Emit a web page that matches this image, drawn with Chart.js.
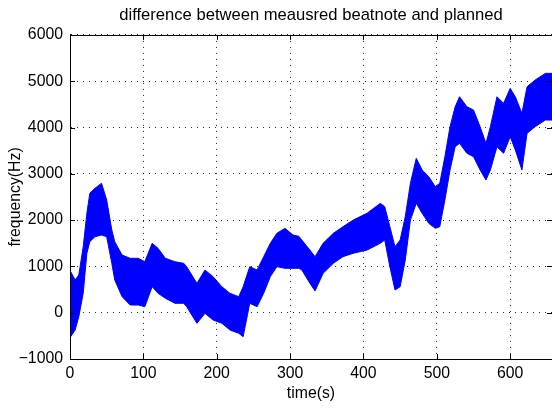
<!DOCTYPE html>
<html>
<head>
<meta charset="utf-8">
<script src="https://cdn.jsdelivr.net/npm/chart.js@4/dist/chart.umd.min.js"></script>
<style>
  body { margin: 0; background: #fff; }
  #wrap { width: 552px; height: 409px; }
</style>
</head>
<body>
<div id="wrap"><canvas id="beatChart" width="552" height="409"></canvas></div>
<script>
// time (s) and the upper / lower edge of the noisy trace (Hz)
const times = [1, 7, 12, 18, 23, 27, 34, 43, 50, 57,
  61, 71, 82, 93, 102, 112, 120, 130, 143, 155,
  159, 173, 184, 195, 207, 218, 230, 236, 245, 255,
  264, 273, 282, 293, 304, 312, 316, 327, 334, 345,
  359, 372, 386, 405, 423, 429, 436, 443, 450, 457,
  464, 472, 480, 489, 498, 504, 511, 518, 525, 531,
  541, 550, 559, 567, 573, 582, 591, 600, 607, 616,
  623, 634, 648, 657];
const upperEdge = [885, 706, 814, 1425, 2147, 2579, 2687, 2795, 2434, 1786,
  1534, 1246, 1175, 1175, 1102, 1499, 1391, 1175, 1102, 1067,
  994, 635, 922, 778, 562, 419, 346, 562, 994, 922,
  1210, 1499, 1715, 1823, 1678, 1650, 1570, 1354, 1210, 1500,
  1715, 1857, 2000, 2150, 2362, 2290, 1857, 1425, 1570, 2075,
  2795, 3335, 3082, 2937, 2721, 2795, 3370, 4017, 4449, 4665,
  4449, 4378, 4017, 3658, 4017, 4665, 4522, 4846, 4665, 4306,
  4881, 5025, 5170, 5170];
const lowerEdge = [-518, -374, -86, 419, 1283, 1534, 1641, 1678, 1641, 1067,
  706, 346, 166, 166, 130, 562, 419, 311, 203, 203,
  130, -229, -14, -158, -229, -374, -445, -518, 203, 130,
  419, 778, 994, 959, 959, 959, 922, 635, 470, 850,
  1067, 1210, 1283, 1354, 1499, 1570, 994, 490, 562, 1138,
  2000, 2362, 2147, 1930, 1823, 1857, 2434, 3082, 3585, 3658,
  3443, 3370, 3082, 2866, 3082, 3585, 3443, 3801, 3514, 3082,
  3874, 4017, 4162, 4160];

const xRange = [0, 657];
const yRange = [-1000, 6000];
const xStep = 100;
const yStep = 1000;

const FONT = "'Liberation Sans', Arial, Helvetica, sans-serif";
Chart.defaults.font.family = FONT;
Chart.defaults.color = '#000';

// plain numbers, matlab minus sign
const fmt = v => String(v).replace('-', '\u2212');

// matlab style box + inward tick marks
const boxTicks = {
  id: 'boxTicks',
  afterDraw(chart) {
    const { ctx, chartArea: a, scales } = chart;
    const len = 5;
    ctx.save();
    ctx.strokeStyle = '#000';
    ctx.lineWidth = 1;
    ctx.beginPath();
    scales.x.ticks.forEach(t => {
      const px = Math.round(scales.x.getPixelForValue(t.value)) + 0.5;
      ctx.moveTo(px, a.bottom); ctx.lineTo(px, a.bottom - len);
      ctx.moveTo(px, a.top); ctx.lineTo(px, a.top + len);
    });
    scales.y.ticks.forEach(t => {
      const py = Math.round(scales.y.getPixelForValue(t.value)) + 0.5;
      ctx.moveTo(a.left, py); ctx.lineTo(a.left + len, py);
      ctx.moveTo(a.right, py); ctx.lineTo(a.right - len, py);
    });
    ctx.stroke();
    ctx.strokeRect(Math.round(a.left) + 0.5, Math.round(a.top) + 0.5,
      Math.round(a.right - a.left), Math.round(a.bottom - a.top));
    ctx.restore();
  }
};

new Chart(document.getElementById('beatChart'), {
  type: 'line',
  data: {
    datasets: [
      {
        label: 'upper',
        data: times.map((t, i) => ({ x: t, y: upperEdge[i] })),
        borderColor: '#0000ff',
        backgroundColor: '#0000ff',
        borderWidth: 1,
        pointRadius: 0,
        tension: 0,
        fill: '+1'
      },
      {
        label: 'lower',
        data: times.map((t, i) => ({ x: t, y: lowerEdge[i] })),
        borderColor: '#0000ff',
        borderWidth: 1,
        pointRadius: 0,
        tension: 0,
        fill: false
      }
    ]
  },
  options: {
    responsive: false,
    animation: false,
    layout: { padding: 0 },
    plugins: {
      legend: { display: false },
      tooltip: { enabled: false },
      title: {
        display: true,
        text: 'difference between meausred beatnote and planned',
        fullSize: false,
        color: '#000',
        font: { size: 16.6, weight: 'normal' },
        padding: { top: 5, bottom: 10 }
      }
    },
    scales: {
      x: {
        type: 'linear',
        min: xRange[0],
        max: xRange[1],
        afterFit: s => { s.height = 50; },
        ticks: { stepSize: xStep, includeBounds: false, maxRotation: 0, padding: 5, font: { size: 15.8 }, color: '#000', callback: fmt },
        grid: { color: 'rgba(0,0,0,0.85)', drawTicks: false },
        border: { color: '#000', dash: [1, 5] },
        title: { display: true, text: 'time(s)', font: { size: 15.8 }, color: '#000', padding: { top: 0, bottom: 6 } }
      },
      y: {
        min: yRange[0],
        max: yRange[1],
        afterFit: s => { s.width = 70; },
        ticks: { stepSize: yStep, padding: 7, font: { size: 15.8 }, color: '#000', callback: fmt },
        grid: { color: 'rgba(0,0,0,0.85)', drawTicks: false },
        border: { color: '#000', dash: [1, 5] },
        title: { display: true, text: 'frequency(Hz)', font: { size: 15.8 }, color: '#000', padding: { top: 6, bottom: 0 } }
      }
    }
  },
  plugins: [boxTicks]
});
</script>
</body>
</html>
